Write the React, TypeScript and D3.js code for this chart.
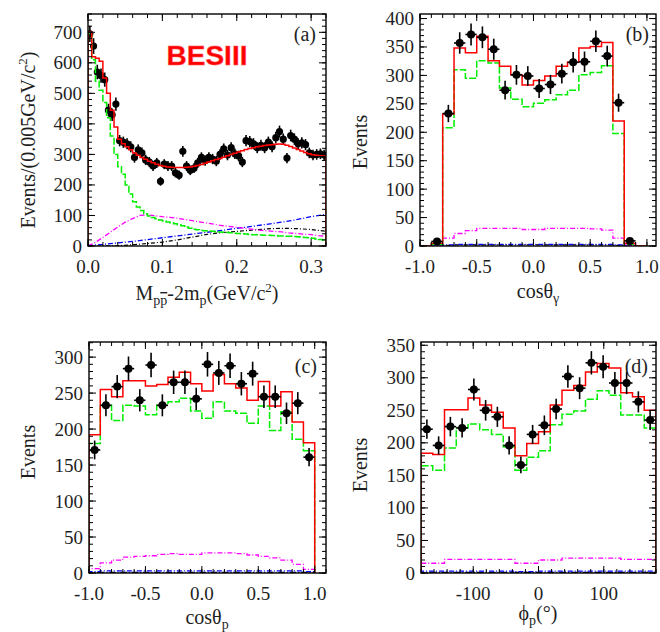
import React from "react";
import * as d3 from "d3";

const FONT = "'Liberation Serif', 'Times New Roman', Times, serif";
const TXT = "#1e1e1e";

// ---------------- Panel (a): M(pp̄) - 2m_p, 0.005 GeV/c² bins ----------------
const aBinStart = 0;
const aBinWidth = 0.005;
const aData = [695, 655, 570, 558, 545, 445, 430, 465, 345, 340, 335, 325, 290, 315, 305, 282, 275, 262, 272, 212,
  268, 262, 262, 240, 232, 310, 262, 248, 255, 272, 290, 280, 290, 285, 278, 300, 318, 298, 322, 302,
  295, 275, 345, 342, 335, 322, 330, 322, 340, 325, 355, 375, 350, 288, 362, 350, 335, 338, 332, 305,
  298, 300, 302, 298];
const aFit = [700, 620, 615, 605, 550, 500, 445, 390, 350, 335, 325, 315, 305, 297, 290, 284, 278, 273, 268, 264,
  261, 259, 258, 257, 257, 257, 258, 259, 261, 264, 267, 271, 275, 279, 283, 287, 291, 296, 300, 304,
  308, 312, 316, 319, 322, 325, 327, 329, 331, 332, 333, 334, 333, 330, 326, 321, 316, 311, 306, 302,
  299, 297, 297, 298];
const aSignal = [695, 610, 540, 510, 470, 420, 360, 300, 260, 235, 200, 170, 145, 128, 116, 106, 98, 93, 89, 85,
  82, 79, 76, 73, 70, 66, 62, 58, 55, 53, 51, 50, 49, 48, 47, 46, 45, 44, 43, 42,
  41, 40, 39, 38, 37, 37, 36, 35, 35, 34, 34, 33, 33, 32, 32, 31, 30, 29, 28, 27,
  25, 23, 21, 20];
const aMagentaX = [0, 0.01, 0.02, 0.03, 0.04, 0.05, 0.06, 0.07, 0.08, 0.09, 0.1, 0.11, 0.12, 0.13, 0.14, 0.15, 0.16,
  0.17, 0.18, 0.19, 0.2, 0.21, 0.22, 0.23, 0.24, 0.25, 0.26, 0.27, 0.28, 0.29, 0.3, 0.31, 0.32];
const aMagenta = [0, 12, 28, 45, 62, 78, 90, 100, 102, 99, 96, 94, 91, 87, 83, 79, 75, 71, 67, 64, 61, 58, 55, 52,
  50, 48, 46, 43, 41, 39, 37, 34, 32];
const aBlueX = [0, 0.02, 0.04, 0.06, 0.08, 0.1, 0.12, 0.14, 0.16, 0.18, 0.2, 0.22, 0.24, 0.26, 0.28, 0.3, 0.32];
const aBlue = [2, 5, 10, 15, 21, 27, 33, 39, 45, 51, 58, 64, 71, 78, 86, 96, 104];
const aBlackX = [0, 0.02, 0.04, 0.06, 0.08, 0.1, 0.12, 0.14, 0.16, 0.18, 0.2, 0.22, 0.24, 0.26, 0.28, 0.3, 0.32];
const aBlack = [0, 0, 1, 4, 8, 13, 20, 29, 38, 44, 48, 52, 56, 58, 57, 54, 48];
const aXTicks = [0, 0.1, 0.2, 0.3];
const aXTickLabels = ["0.0", "0.1", "0.2", "0.3"];
const aYTicks = [0, 100, 200, 300, 400, 500, 600, 700];

// ---------------- Panel (b): cosθγ, 0.1 bins from -1 ----------------
const bData = [null, 8, 233, 357, 372, 367, 346, 274, 301, 299, 277, 284, 303, 323, 324, 360, 334, 252, 9, null];
const bFit = [0, 5, 232, 348, 340, 369, 326, 316, 301, 283, 291, 299, 316, 323, 348, 351, 358, 220, 5, 0];
const bSignal = [0, 3, 208, 310, 295, 326, 322, 278, 258, 245, 251, 257, 266, 274, 301, 305, 317, 198, 3, 0];
const bMagenta = [0, 2, 14, 22, 27, 31, 31, 31, 31, 29, 29, 31, 31, 31, 31, 30, 28, 14, 2, 0];
const bBlue = [0, 0, 2, 3, 3, 3, 3, 3, 3, 3, 3, 3, 3, 3, 3, 3, 3, 2, 0, 0];
const bBlack = [0, 0, 1, 2, 2, 2, 2, 2, 2, 2, 2, 2, 2, 2, 2, 2, 2, 1, 0, 0];
const cosTicks = [-1, -0.5, 0, 0.5, 1];
const cosTickLabels = ["-1.0", "-0.5", "0.0", "0.5", "1.0"];
const bYTicks = [0, 50, 100, 150, 200, 250, 300, 350, 400];

// ---------------- Panel (c): cosθp ----------------
const cData = [171, 233, 259, 284, 240, 289, 233, 265, 265, 242, 290, 278, 288, 263, 277, 245, 245, 222, 236, 161];
const cFit = [192, 255, 245, 267, 267, 260, 262, 272, 279, 263, 253, 276, 263, 257, 240, 266, 232, 252, 210, 181];
const cSignal = [180, 233, 212, 233, 232, 220, 233, 238, 243, 225, 215, 238, 225, 222, 208, 232, 198, 224, 186, 170];
const cMagenta = [6, 14, 18, 22, 23, 24, 26, 27, 26, 26, 28, 28, 28, 27, 25, 23, 21, 18, 12, 5];
const cBlue = [2, 3, 3, 3, 3, 3, 3, 3, 3, 3, 3, 3, 3, 3, 3, 3, 3, 3, 3, 2];
const cBlack = [1, 1, 1, 1, 1, 1, 1, 1, 1, 1, 1, 1, 1, 1, 1, 1, 1, 1, 1, 1];
const cYTicks = [0, 50, 100, 150, 200, 250, 300];

// ---------------- Panel (d): φp, 18° bins ----------------
const dData = [221, 196, 225, 223, 282, 250, 240, 196, 166, 213, 227, 252, 302, 284, 323, 317, 292, 292, 263, 235];
const dFit = [184, 182, 251, 251, 269, 258, 247, 223, 180, 199, 217, 258, 281, 288, 309, 322, 315, 277, 271, 250];
const dSignal = [165, 158, 192, 223, 229, 220, 213, 194, 158, 178, 188, 228, 244, 249, 267, 280, 273, 243, 243, 223];
const dMagenta = [15, 15, 21, 21, 21, 21, 21, 21, 15, 15, 20, 20, 23, 23, 23, 23, 23, 21, 21, 21];
const dBlue = [3, 3, 3, 3, 3, 3, 3, 3, 2, 2, 3, 3, 3, 3, 3, 3, 3, 3, 3, 3];
const dBlack = [1, 1, 1, 1, 1, 1, 1, 1, 1, 1, 1, 1, 1, 1, 1, 1, 1, 1, 1, 1];
const dXTicks = [-100, 0, 100];
const dXTickLabels = ["-100", "0", "100"];
const dYTicks = [0, 50, 100, 150, 200, 250, 300, 350];

const RED = "#ff0000";
const GREEN = "#00ee00";
const MAGENTA = "#ff00ff";
const BLUE = "#0000ff";
const BLACK = "#000000";

type Pt = [number, number];

type PanelCfg = {
  id: string;
  left: number; right: number; top: number; bottom: number;
  xDomain: [number, number]; yDomain: [number, number];
  xTicks: number[]; xTickLabels: string[]; yTicks: number[];
  xMinor: number; yMinor: number;
  binStart: number; binWidth: number;
  data: (number | null)[];
  hists: { vals: number[]; color: string; dash?: string; width: number }[];
  lines?: { xs: number[]; ys: number[]; color: string; dash?: string; width: number }[];
  pointsFirst?: boolean;
  r: number;
  label: string; labelX: number; labelY: number;
  yTitle: React.ReactNode; yTitleX: number; yTitleY: number;
  xTitle: React.ReactNode; xTitleX: number; xTitleY: number;
};

function minorTicks(domain: [number, number], step: number) {
  const n0 = Math.ceil(domain[0] / step - 1e-9);
  const n1 = Math.floor(domain[1] / step + 1e-9);
  return d3.range(n0, n1 + 1).map((k) => +(k * step).toFixed(6));
}

function Panel({ p }: { p: PanelCfg }) {
  const x = d3.scaleLinear().domain(p.xDomain).range([p.left, p.right]);
  const y = d3.scaleLinear().domain(p.yDomain).range([p.bottom, p.top]);
  const line = d3.line<Pt>().x((d) => x(d[0])).y((d) => y(d[1]));
  const histPath = (vals: number[]) => {
    const pts: Pt[] = [[p.binStart, 0]];
    vals.forEach((v, i) => {
      pts.push([p.binStart + i * p.binWidth, v]);
      pts.push([p.binStart + (i + 1) * p.binWidth, v]);
    });
    pts.push([p.binStart + vals.length * p.binWidth, 0]);
    return line(pts) || "";
  };
  const clip = `clip-${p.id}`;
  const MAJ = 7, MIN = 4;
  const xMin = minorTicks(p.xDomain, p.xMinor);
  const yMin = minorTicks(p.yDomain, p.yMinor);

  const points = (
    <g key="pts" stroke="#000" strokeWidth={1.6} fill="#000">
      {p.data.map((v, i) => {
        if (v == null) return null;
        const c = p.binStart + (i + 0.5) * p.binWidth;
        const e = Math.sqrt(v);
        return (
          <g key={i}>
            <line x1={x(c - p.binWidth / 2)} x2={x(c + p.binWidth / 2)} y1={y(v)} y2={y(v)} />
            <line x1={x(c)} x2={x(c)} y1={y(v - e)} y2={y(v + e)} />
            <circle cx={x(c)} cy={y(v)} r={p.r} stroke="none" />
          </g>
        );
      })}
    </g>
  );

  const curves = (
    <g key="curves" fill="none">
      {(p.lines || []).map((l, i) => (
        <path key={"l" + i} d={line(l.xs.map((xv, k) => [xv, l.ys[k]] as Pt)) || ""}
          stroke={l.color} strokeWidth={l.width} strokeDasharray={l.dash} />
      ))}
      {p.hists.map((h, i) => (
        <path key={"h" + i} d={histPath(h.vals)} stroke={h.color} strokeWidth={h.width} strokeDasharray={h.dash} />
      ))}
    </g>
  );

  return (
    <g>
      <defs>
        <clipPath id={clip}>
          <rect x={p.left} y={p.top} width={p.right - p.left} height={p.bottom - p.top} />
        </clipPath>
      </defs>
      <g clipPath={`url(#${clip})`}>
        {p.pointsFirst ? [points, curves] : [curves, points]}
      </g>
      <g stroke="#000" strokeWidth={1}>
        {xMin.map((v) => (
          <g key={"xm" + v}>
            <line x1={x(v)} x2={x(v)} y1={p.bottom} y2={p.bottom - MIN} />
            <line x1={x(v)} x2={x(v)} y1={p.top} y2={p.top + MIN} />
          </g>
        ))}
        {p.xTicks.map((v) => (
          <g key={"xM" + v}>
            <line x1={x(v)} x2={x(v)} y1={p.bottom} y2={p.bottom - MAJ} />
            <line x1={x(v)} x2={x(v)} y1={p.top} y2={p.top + MAJ} />
          </g>
        ))}
        {yMin.map((v) => (
          <g key={"ym" + v}>
            <line x1={p.left} x2={p.left + MIN} y1={y(v)} y2={y(v)} />
            <line x1={p.right} x2={p.right - MIN} y1={y(v)} y2={y(v)} />
          </g>
        ))}
        {p.yTicks.map((v) => (
          <g key={"yM" + v}>
            <line x1={p.left} x2={p.left + MAJ} y1={y(v)} y2={y(v)} />
            <line x1={p.right} x2={p.right - MAJ} y1={y(v)} y2={y(v)} />
          </g>
        ))}
      </g>
      <rect x={p.left} y={p.top} width={p.right - p.left} height={p.bottom - p.top}
        fill="none" stroke="#000" strokeWidth={1.4} />
      <g fontFamily={FONT} fontSize={19} fill={TXT}>
        {p.xTicks.map((v, i) => (
          <text key={"xl" + v} x={x(v)} y={p.bottom + 27} textAnchor="middle">{p.xTickLabels[i]}</text>
        ))}
        {p.yTicks.map((v) => (
          <text key={"yl" + v} x={p.left - 6} y={y(v)} textAnchor="end" dominantBaseline="central">{v}</text>
        ))}
      </g>
      <text x={p.labelX} y={p.labelY} textAnchor="end" fontFamily={FONT} fontSize={20} fill={TXT}>{p.label}</text>
      <text transform={`translate(${p.yTitleX},${p.yTitleY}) rotate(-90)`} textAnchor="middle"
        fontFamily={FONT} fontSize={20} fill={TXT}>{p.yTitle}</text>
      <text x={p.xTitleX} y={p.xTitleY} textAnchor="middle" fontFamily={FONT} fontSize={20} fill={TXT}>{p.xTitle}</text>
    </g>
  );
}

const histStyles = (fit: number[], sig: number[], mag: number[], blue: number[], black: number[]) => [
  { vals: black, color: BLACK, dash: "4,2,1,2", width: 1.2 },
  { vals: blue, color: BLUE, dash: "5,2,1,2", width: 1.3 },
  { vals: mag, color: MAGENTA, dash: "5,2,1,2", width: 1.3 },
  { vals: sig, color: GREEN, dash: "7,2", width: 1.5 },
  { vals: fit, color: RED, width: 1.5 },
];

const panels: PanelCfg[] = [
  {
    id: "a", left: 88, right: 326, top: 14, bottom: 246,
    xDomain: [0, 0.32], yDomain: [0, 760],
    xTicks: aXTicks, xTickLabels: aXTickLabels, yTicks: aYTicks, xMinor: 0.02, yMinor: 20,
    binStart: aBinStart, binWidth: aBinWidth, data: aData,
    lines: [
      { xs: aBlackX, ys: aBlack, color: BLACK, dash: "4,2,1,2", width: 1.2 },
      { xs: aBlueX, ys: aBlue, color: BLUE, dash: "5,2,1,2", width: 1.3 },
      { xs: aMagentaX, ys: aMagenta, color: MAGENTA, dash: "5,2,1,2", width: 1.3 },
    ],
    hists: [
      { vals: aSignal, color: GREEN, dash: "7,2", width: 1.5 },
      { vals: aFit, color: RED, width: 1.5 },
    ],
    pointsFirst: true, r: 3.6,
    label: "(a)", labelX: 316, labelY: 41,
    yTitle: (<>Events/(0.005GeV/c<tspan dy={-8} fontSize={13}>2</tspan><tspan dy={8}>)</tspan></>),
    yTitleX: 35, yTitleY: 140,
    xTitle: (<>M<tspan dy={5} fontSize={14}>p</tspan><tspan fontSize={14} style={{ textDecoration: "overline" }}>p</tspan><tspan dy={-5}>-2m</tspan><tspan dy={5} fontSize={14}>p</tspan><tspan dy={-5}>(GeV/c</tspan><tspan dy={-8} fontSize={13}>2</tspan><tspan dy={8}>)</tspan></>),
    xTitleX: 207, xTitleY: 300,
  },
  {
    id: "b", left: 420, right: 656, top: 14, bottom: 246,
    xDomain: [-1, 1.08], yDomain: [0, 408],
    xTicks: cosTicks, xTickLabels: cosTickLabels, yTicks: bYTicks, xMinor: 0.1, yMinor: 10,
    binStart: -1, binWidth: 0.1, data: bData,
    hists: histStyles(bFit, bSignal, bMagenta, bBlue, bBlack),
    r: 4,
    label: "(b)", labelX: 649, labelY: 41,
    yTitle: "Events", yTitleX: 367, yTitleY: 142,
    xTitle: (<>cosθ<tspan dy={5} fontSize={14}>γ</tspan></>),
    xTitleX: 538, xTitleY: 298,
  },
  {
    id: "c", left: 89, right: 326, top: 342, bottom: 573,
    xDomain: [-1, 1.1], yDomain: [0, 321],
    xTicks: cosTicks, xTickLabels: cosTickLabels, yTicks: cYTicks, xMinor: 0.1, yMinor: 10,
    binStart: -1, binWidth: 0.1, data: cData,
    hists: histStyles(cFit, cSignal, cMagenta, cBlue, cBlack),
    r: 4,
    label: "(c)", labelX: 317, labelY: 373,
    yTitle: "Events", yTitleX: 35, yTitleY: 452,
    xTitle: (<>cosθ<tspan dy={5} fontSize={14}>p</tspan></>),
    xTitleX: 207, xTitleY: 624,
  },
  {
    id: "d", left: 421, right: 656, top: 342, bottom: 573,
    xDomain: [-180, 180], yDomain: [0, 355],
    xTicks: dXTicks, xTickLabels: dXTickLabels, yTicks: dYTicks, xMinor: 20, yMinor: 10,
    binStart: -180, binWidth: 18, data: dData,
    hists: histStyles(dFit, dSignal, dMagenta, dBlue, dBlack),
    r: 4,
    label: "(d)", labelX: 648, labelY: 373,
    yTitle: "Events", yTitleX: 367, yTitleY: 465,
    xTitle: (<>ϕ<tspan dy={5} fontSize={14}>p</tspan><tspan dy={-5}>(°)</tspan></>),
    xTitleX: 538, xTitleY: 620,
  },
];

export default function App() {
  return (
    <svg width={660} height={632} viewBox="0 0 660 632"
      style={{ position: "absolute", left: 0, top: 0, background: "#fff" }}>
      <rect x={0} y={0} width={660} height={632} fill="#fff" />
      {panels.map((p) => <Panel key={p.id} p={p} />)}
      <text x={207} y={65} textAnchor="middle" fontFamily="'Liberation Sans', Arial, sans-serif"
        fontWeight="bold" fontSize={28} fill="#ff0000" stroke="#ff5a5a" strokeWidth={0.8} strokeOpacity={0.6}>BESIII</text>
    </svg>
  );
}
